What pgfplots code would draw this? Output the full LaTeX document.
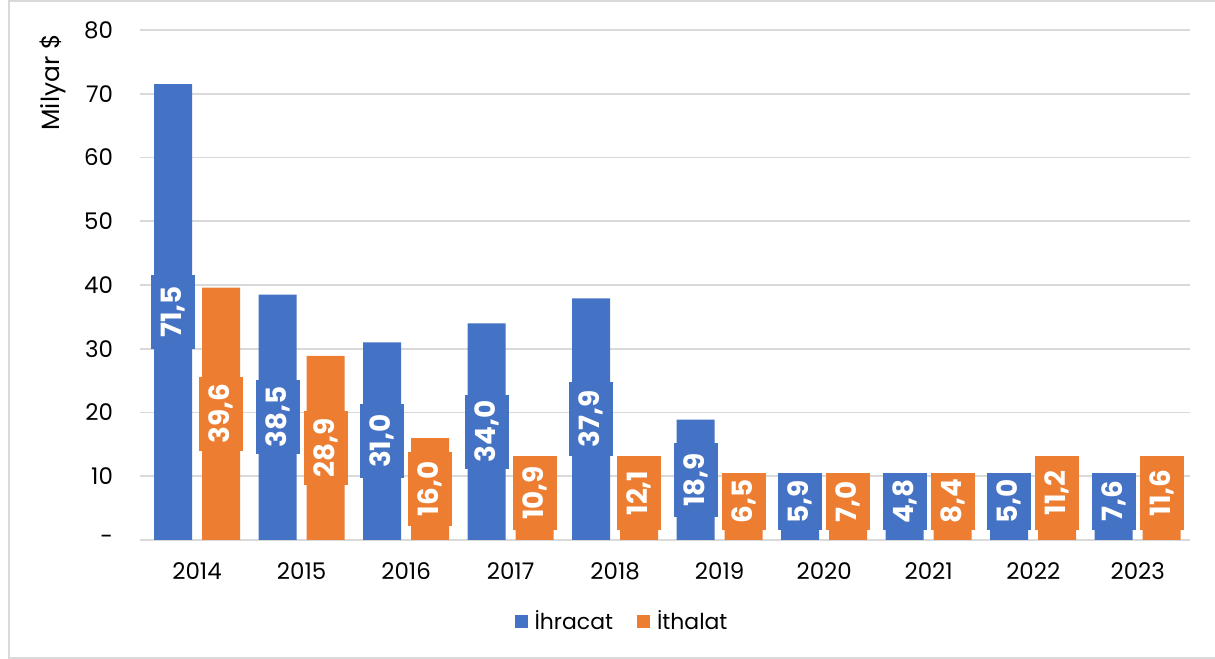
\documentclass[border=0pt]{standalone}
\usepackage{fontspec}
\setmainfont{Poppins}
\usepackage{pgfplots}
\pgfplotsset{compat=1.18}
\definecolor{ihr}{HTML}{4472C4}
\definecolor{ith}{HTML}{ED7D31}
\definecolor{gridgray}{HTML}{D9D9D9}
\begin{document}
\begin{tikzpicture}
\useasboundingbox (0,0) rectangle (607.5bp,329.5bp);
\draw[gridgray, line width=1bp] (4.5bp,0.5bp) rectangle (640bp,329bp);
\begin{axis}[
    at={(70bp,59.5bp)}, anchor=south west,
    scale only axis, width=525bp, height=255bp,
    ybar, bar width=19bp,
    xmin=-0.546, xmax=9.5, ymin=0, ymax=80,
    xtick={0,...,9},
    xticklabels={2014,2015,2016,2017,2018,2019,2020,2021,2022,2023},
    ytick={0,10,...,80},
    yticklabels={-,10,20,30,40,50,60,70,80},
    axis line style={draw=none},
    major tick style={draw=none},
    ymajorgrids, grid style={draw=gridgray, line width=0.8bp},
    tick label style={font=\fontsize{11.5}{13}\selectfont, text=black},
    xticklabel style={yshift=-3.5bp},
    yticklabel style={xshift=-10bp},
    ylabel={Milyar \$},
    ylabel style={at={(axis description cs:-0.083,1.005)}, anchor=east, font=\fontsize{12.5}{14}\selectfont},
    /pgf/number format/assume math mode=true,
    visualization depends on={rawy \as \rawy},
    nodes near coords={\pgfmathprintnumber[fixed,fixed zerofill,precision=1,use comma]{\pgfplotspointmeta}},
    nodes near coords style={
        yshift={(max(\rawy*1.59375,5+(\rawy<10?14.25:18.5))-\rawy*3.1875)*1bp},
        rotate=90, anchor=center, inner sep=0pt,
        minimum width={(\rawy<10?28.5:37)*1bp}, minimum height=22bp,
        text=white, font=\fontsize{14}{16}\selectfont\bfseries},
    legend style={at={(0.46,-0.159)}, anchor=center, draw=none,
        legend columns=2, font=\fontsize{11}{13}\selectfont,
        /tikz/every even column/.append style={column sep=10bp}},
]
\addplot[fill=ihr, draw=none, bar shift=-12bp,
    nodes near coords style={fill=ihr},
    legend image code/.code={\fill[ihr] (0bp,-3.25bp) rectangle (6.5bp,3.25bp);}]
    coordinates {(0,71.5) (1,38.5) (2,31.0) (3,34.0) (4,37.9)
                 (5,18.9) (6,5.9) (7,4.8) (8,5.0) (9,7.6)};
\addlegendentry{\hspace{1.5bp}İhracat}
\addplot[fill=ith, draw=none, bar shift=12bp,
    nodes near coords style={fill=ith},
    legend image code/.code={\fill[ith] (0bp,-3.25bp) rectangle (6.5bp,3.25bp);}]
    coordinates {(0,39.6) (1,28.9) (2,16.0) (3,10.9) (4,12.1)
                 (5,6.5) (6,7.0) (7,8.4) (8,11.2) (9,11.6)};
\addlegendentry{\hspace{1.5bp}İthalat}
\end{axis}
\end{tikzpicture}
\end{document}
